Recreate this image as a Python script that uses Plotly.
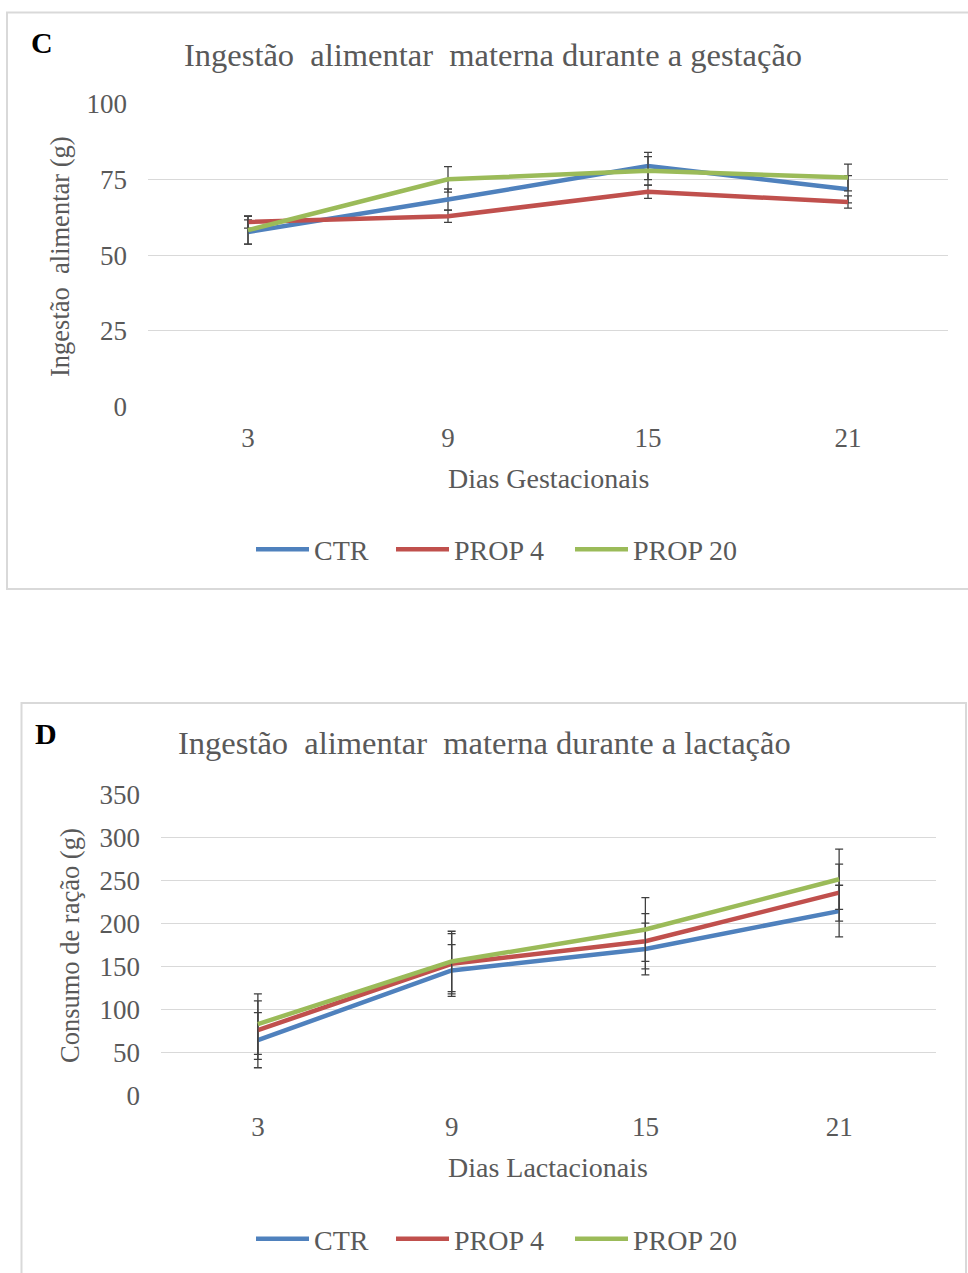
import plotly.graph_objects as go

W, H = 968, 1273

# ---------------- data ----------------
days = ["3", "9", "15", "21"]
series_names = ["CTR", "PROP 4", "PROP 20"]

# Panel C: gestação
ctr_c = [57.7, 68.4, 79.5, 71.8]
ctr_c_err = [4.0, 3.5, 4.5, 4.5]
prop4_c = [61.0, 62.9, 71.0, 67.6]
prop4_c_err = [2.0, 2.0, 2.2, 2.0]
prop20_c = [58.3, 75.1, 77.9, 75.7]
prop20_c_err = [4.6, 4.2, 4.7, 4.4]

# Panel D: lactação
ctr_d = [64.8, 145.6, 170.6, 214.5]
ctr_d_err = [32, 30, 30, 30]
prop4_d = [76.4, 153.4, 179.5, 235.9]
prop4_d_err = [34, 35, 32, 33]
prop20_d = [83.4, 156.1, 193.1, 251.5]
prop20_d_err = [35, 35, 37, 35]

colors = ["#4F81BD", "#C0504D", "#9BBB59"]
FONT = "Liberation Serif"
GRAY = "#595959"


def px(x):
    return x / W


def py(y):
    return 1 - y / H


fig = go.Figure()

panel_c = [(ctr_c, ctr_c_err), (prop4_c, prop4_c_err), (prop20_c, prop20_c_err)]
panel_d = [(ctr_d, ctr_d_err), (prop4_d, prop4_d_err), (prop20_d, prop20_d_err)]

legend_ids_c = ["legend", "legend2", "legend3"]
legend_ids_d = ["legend4", "legend5", "legend6"]

for (vals, errs), name, col, lg in zip(panel_c, series_names, colors, legend_ids_c):
    fig.add_trace(go.Scatter(
        x=days, y=vals, name=name, mode="lines",
        line=dict(color=col, width=4.5),
        error_y=dict(type="data", array=errs, visible=True,
                     color="#404040", thickness=1.3, width=4),
        xaxis="x", yaxis="y", legend=lg))

for (vals, errs), name, col, lg in zip(panel_d, series_names, colors, legend_ids_d):
    fig.add_trace(go.Scatter(
        x=days, y=vals, name=name, mode="lines",
        line=dict(color=col, width=4.5),
        error_y=dict(type="data", array=errs, visible=True,
                     color="#404040", thickness=1.3, width=4),
        xaxis="x2", yaxis="y2", legend=lg))

tickfont = dict(family=FONT, size=27, color=GRAY)
common_x = dict(type="category", range=[-0.5, 3.5], showgrid=False,
                showline=False, zeroline=False, ticks="", tickfont=tickfont,
                ticklabelstandoff=12, automargin=False)
common_y = dict(showgrid=True, gridcolor="#D9D9D9", gridwidth=1.2,
                zeroline=False, showline=False, ticks="", tickfont=tickfont,
                ticklabelstandoff=20, automargin=False)

LEG_OFF = 5
legend_lines_x = [256, 396, 575]


def leg(xline, yline):
    return dict(orientation="h", x=px(xline - LEG_OFF), xanchor="left",
                y=py(yline), yanchor="middle",
                font=dict(family=FONT, size=28, color=GRAY),
                itemwidth=53, bgcolor="rgba(0,0,0,0)", borderwidth=0)


layout_legends = {}
for lg, xl in zip(legend_ids_c, legend_lines_x):
    layout_legends[lg] = leg(xl, 549.5)
for lg, xl in zip(legend_ids_d, legend_lines_x):
    layout_legends[lg] = leg(xl, 1239)

fig.update_layout(
    autosize=True,
    margin=dict(l=0, r=0, t=0, b=0, pad=0, autoexpand=False),
    paper_bgcolor="white", plot_bgcolor="white",
    xaxis=dict(domain=[px(148), px(948)], anchor="y", **common_x),
    yaxis=dict(domain=[py(406.5), py(104)], anchor="x", range=[0, 100],
               tickvals=[0, 25, 50, 75, 100], **common_y),
    xaxis2=dict(domain=[px(161), px(936)], anchor="y2", **common_x),
    yaxis2=dict(domain=[py(1096), py(794.3)], anchor="x2", range=[0, 350],
                tickvals=[0, 50, 100, 150, 200, 250, 300, 350], **common_y),
    showlegend=True,
    **layout_legends,
)

# panel boxes
fig.add_shape(type="rect", xref="paper", yref="paper",
              x0=px(7), x1=px(990), y0=py(589), y1=py(12.5),
              line=dict(color="#D9D9D9", width=2), layer="below")
fig.add_shape(type="rect", xref="paper", yref="paper",
              x0=px(21.5), x1=px(966), y0=py(1300), y1=py(703),
              line=dict(color="#D9D9D9", width=2), layer="below")

annots = [
    dict(text="<b>C</b>", x=px(42), y=py(43), size=30, color="black"),
    dict(text="<b>D</b>", x=px(46), y=py(733), size=30, color="black"),
    dict(text="Ingestão  alimentar  materna durante a gestação", x=px(493), y=py(55), size=32.5, color=GRAY),
    dict(text="Ingestão  alimentar  materna durante a lactação", x=px(485), y=py(743), size=32.5, color=GRAY),
    dict(text="Dias Gestacionais", x=px(548), y=py(478), size=28, color=GRAY),
    dict(text="Dias Lactacionais", x=px(548), y=py(1167), size=28, color=GRAY),
]
for a in annots:
    fig.add_annotation(text=a["text"], x=a["x"], y=a["y"], xref="paper", yref="paper",
                       xanchor="center", yanchor="middle", showarrow=False,
                       font=dict(family=FONT, size=a["size"], color=a["color"]))

fig.add_annotation(text="Ingestão  alimentar (g)", x=px(60), y=py(257), xref="paper", yref="paper",
                   xanchor="center", yanchor="middle", showarrow=False, textangle=-90,
                   font=dict(family=FONT, size=26.5, color=GRAY))
fig.add_annotation(text="Consumo de ração (g)", x=px(70), y=py(946), xref="paper", yref="paper",
                   xanchor="center", yanchor="middle", showarrow=False, textangle=-90,
                   font=dict(family=FONT, size=26.5, color=GRAY))

fig.write_html("out.html",
               config={"displayModeBar": False},
               default_width="100vw", default_height="100vh",
               post_script="document.body.style.margin='0px';document.body.style.overflow='hidden';")
